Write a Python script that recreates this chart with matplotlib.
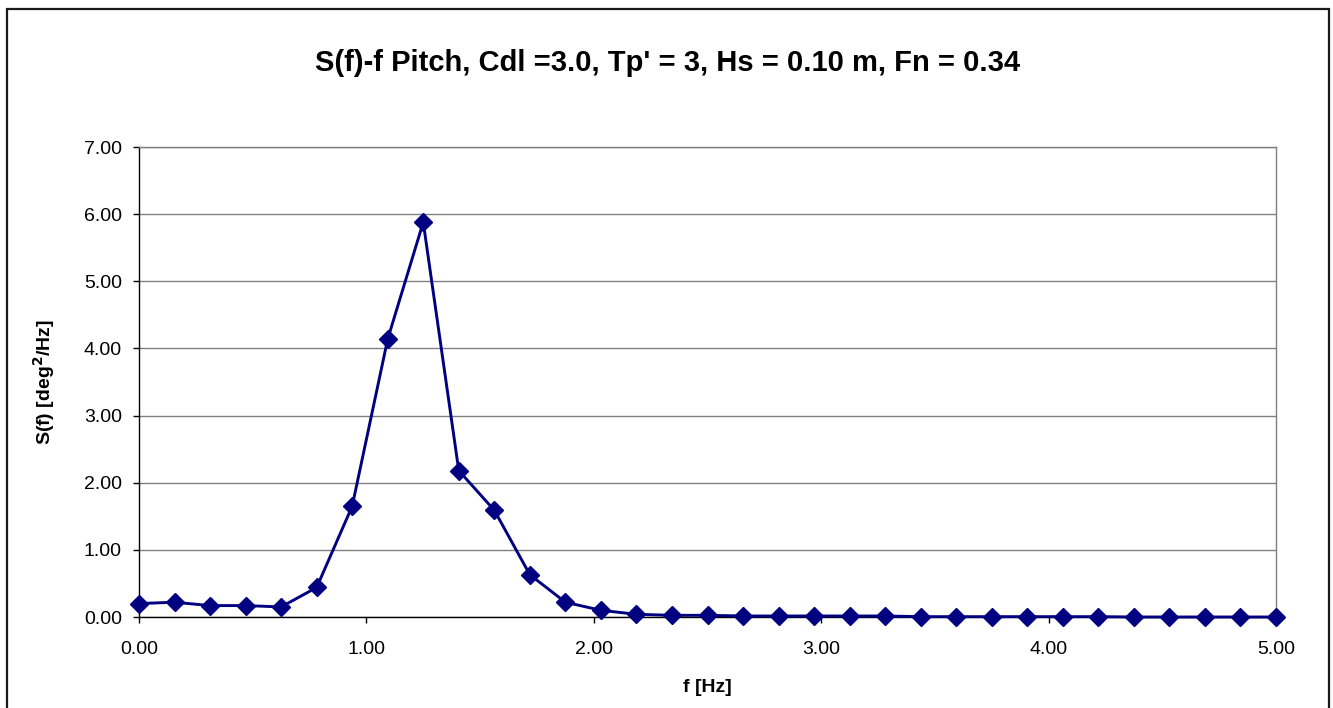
import matplotlib
matplotlib.use("Agg")
import matplotlib.pyplot as plt
from matplotlib.patches import Rectangle
import numpy as np

plt.rcParams['font.family'] = ['Liberation Sans', 'DejaVu Sans']

# frequency grid: 33 bins between 0 and 5 Hz
freq = np.linspace(0.0, 5.0, 33)
spectrum = [0.20, 0.22, 0.17, 0.17, 0.15, 0.44, 1.65, 4.14, 5.88, 2.18,
            1.59, 0.63, 0.22, 0.10, 0.04, 0.025, 0.025, 0.015, 0.015, 0.015,
            0.015, 0.015, 0.005, 0.005, 0.005, 0.005, 0.005, 0.005, 0.0, 0.0,
            0.0, 0.0, 0.0]
y_ticks = [0, 1, 2, 3, 4, 5, 6, 7]
x_ticks = [0, 1, 2, 3, 4, 5]

title = "S(f)-f Pitch, Cdl =3.0, Tp' = 3, Hs = 0.10 m, Fn = 0.34"
navy = "#000080"

fig = plt.figure(figsize=(13.33, 7.08), dpi=100)

# chart frame around everything
fig.patches.append(Rectangle((7.5 / 1333, -0.1), 1321 / 1333, 1.1 - 9.5 / 708,
                             transform=fig.transFigure, fill=False,
                             edgecolor="#1a1a1a", linewidth=1.6))

ax = fig.add_axes([139 / 1333, 1 - 617 / 708, 1137 / 1333, 470 / 708])

ax.plot(freq, spectrum, color=navy, linewidth=2.1, marker="D",
        markersize=9, markerfacecolor=navy, markeredgecolor=navy,
        clip_on=False, zorder=3)

ax.set_xlim(0, 5)
ax.set_ylim(0, 7)
ax.set_xticks(x_ticks)
ax.set_yticks(y_ticks)
ax.set_xticklabels(["%.2f" % v for v in x_ticks])
ax.set_yticklabels(["%.2f" % v for v in y_ticks])
ax.tick_params(axis="both", direction="out", length=4.3, width=1,
               color="#000000", labelsize=14)
ax.tick_params(axis="y", pad=8)
ax.tick_params(axis="x", pad=13)
ax.yaxis.grid(True, color="#808080", linewidth=1)
ax.set_axisbelow(True)

for side in ("top", "right"):
    ax.spines[side].set_color("#808080")
    ax.spines[side].set_linewidth(1)
for side in ("left", "bottom"):
    ax.spines[side].set_color("#000000")
    ax.spines[side].set_linewidth(1)

ax.set_xlabel("f [Hz]", fontsize=14, fontweight="bold", labelpad=15)
ax.set_ylabel(r"S(f) [deg$^{\mathbf{2}}$/Hz]", fontsize=14, fontweight="bold",
              labelpad=19)
fig.text(668 / 1333, 1 - 63 / 708, title, ha="center", va="center",
         fontsize=21, fontweight="bold")

fig.savefig("out.png", dpi=100)
